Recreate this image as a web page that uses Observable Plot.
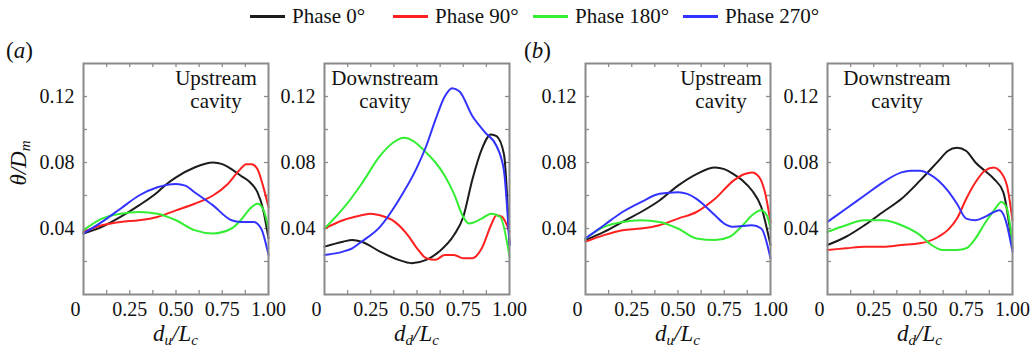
<!DOCTYPE html>
<html>
<head>
<meta charset="utf-8">
<script src="https://cdn.jsdelivr.net/npm/d3@7"></script>
<script src="https://cdn.jsdelivr.net/npm/@observablehq/plot@0.6"></script>
<style>
  body { margin: 0; background: #fff; }
  #root { position: relative; width: 1036px; height: 355px; overflow: hidden; font-family: "Liberation Serif", "DejaVu Serif", serif; color: #111; }
  .legend-item { position: absolute; top: 4px; display: flex; align-items: center; font-size: 21px; white-space: nowrap; }
  .legend-item .sw { width: 35px; height: 3px; margin-right: 7px; }
  .xt { position: absolute; font-style: italic; font-size: 23px; transform: translateX(-50%); white-space: nowrap; line-height: 1; }
  .xt sub, .yt sub { font-size: 15px; vertical-align: -4px; }
  .yt { position: absolute; font-style: italic; font-size: 23px; white-space: nowrap; transform: translate(-50%, -50%) rotate(-90deg); }
  .pl { position: absolute; font-size: 23px; }
  #probe1 { font-family: "Liberation Serif"; }
</style>
</head>
<body>
<div id="root"></div>
<script>
// ---- data ----
const phases = ["Phase 0°", "Phase 90°", "Phase 180°", "Phase 270°"];
const phaseColors = ["#1c1c1c", "#ff2020", "#33ee33", "#3333ff"];

const yTickValues = [0.04, 0.08, 0.12];
const yMinorTicks = [0.02, 0.04, 0.06, 0.08, 0.10, 0.12];
const xTickValues = [0, 0.25, 0.5, 0.75, 1];
const xTickLabels = ["0", "0.25", "0.50", "0.75", "1.00"];
const xMinorTicks = [0.125, 0.25, 0.375, 0.5, 0.625, 0.75, 0.875];

// (a) upstream cavity
const aUp0 = [[0,0.037],[0.1,0.041],[0.2,0.047],[0.3,0.054],[0.4,0.062],[0.45,0.067],[0.5,0.071],[0.6,0.077],[0.7,0.080],[0.75,0.079],[0.8,0.076],[0.85,0.072],[0.9,0.068],[0.94,0.062],[0.97,0.052],[1.0,0.034]];
const aUp90 = [[0,0.038],[0.1,0.042],[0.2,0.044],[0.3,0.045],[0.4,0.047],[0.5,0.051],[0.6,0.055],[0.7,0.060],[0.78,0.067],[0.84,0.075],[0.88,0.079],[0.91,0.079],[0.94,0.076],[0.97,0.066],[1.0,0.053]];
const aUp180 = [[0,0.039],[0.1,0.046],[0.2,0.049],[0.3,0.050],[0.4,0.049],[0.5,0.045],[0.6,0.039],[0.7,0.037],[0.8,0.040],[0.85,0.045],[0.9,0.052],[0.94,0.055],[0.97,0.052],[1.0,0.040]];
const aUp270 = [[0,0.037],[0.1,0.044],[0.2,0.052],[0.3,0.060],[0.4,0.065],[0.5,0.067],[0.55,0.066],[0.6,0.062],[0.7,0.054],[0.8,0.045],[0.85,0.044],[0.92,0.044],[0.96,0.040],[1.0,0.024]];

// (a) downstream cavity
const aDown0 = [[0,0.029],[0.1,0.032],[0.15,0.033],[0.2,0.032],[0.3,0.026],[0.4,0.021],[0.47,0.019],[0.55,0.021],[0.62,0.026],[0.7,0.036],[0.75,0.047],[0.8,0.070],[0.85,0.088],[0.9,0.097],[0.93,0.096],[0.97,0.085],[1.0,0.030]];
const aDown90 = [[0,0.040],[0.1,0.045],[0.2,0.048],[0.25,0.049],[0.3,0.048],[0.38,0.044],[0.45,0.036],[0.5,0.028],[0.55,0.022],[0.6,0.021],[0.65,0.024],[0.7,0.024],[0.75,0.022],[0.8,0.022],[0.85,0.028],[0.9,0.042],[0.93,0.048],[0.96,0.047],[1.0,0.038]];
const aDown180 = [[0,0.040],[0.1,0.052],[0.2,0.067],[0.3,0.084],[0.37,0.092],[0.43,0.095],[0.48,0.093],[0.55,0.086],[0.6,0.080],[0.65,0.072],[0.7,0.061],[0.75,0.047],[0.78,0.043],[0.85,0.046],[0.9,0.049],[0.95,0.047],[1.0,0.023]];
const aDown270 = [[0,0.024],[0.1,0.026],[0.15,0.028],[0.2,0.032],[0.3,0.041],[0.4,0.057],[0.5,0.077],[0.55,0.090],[0.6,0.106],[0.65,0.120],[0.69,0.125],[0.73,0.123],[0.8,0.108],[0.87,0.098],[0.93,0.090],[0.97,0.075],[1.0,0.030]];

// (b) upstream cavity
const bUp0 = [[0,0.033],[0.1,0.038],[0.2,0.044],[0.3,0.050],[0.4,0.057],[0.5,0.066],[0.6,0.073],[0.7,0.077],[0.75,0.076],[0.8,0.073],[0.85,0.069],[0.9,0.063],[0.95,0.053],[1.0,0.030]];
const bUp90 = [[0,0.032],[0.1,0.036],[0.2,0.039],[0.3,0.040],[0.4,0.042],[0.5,0.046],[0.6,0.050],[0.7,0.058],[0.8,0.069],[0.86,0.073],[0.9,0.074],[0.94,0.071],[0.97,0.062],[1.0,0.044]];
const bUp180 = [[0,0.034],[0.1,0.041],[0.2,0.044],[0.3,0.045],[0.4,0.044],[0.5,0.040],[0.6,0.034],[0.7,0.033],[0.78,0.035],[0.85,0.042],[0.9,0.048],[0.95,0.051],[0.98,0.048],[1.0,0.040]];
const bUp270 = [[0,0.034],[0.1,0.042],[0.2,0.050],[0.3,0.056],[0.4,0.061],[0.5,0.062],[0.55,0.061],[0.6,0.058],[0.7,0.048],[0.75,0.043],[0.8,0.041],[0.9,0.042],[0.95,0.040],[1.0,0.022]];

// (b) downstream cavity
const bDown0 = [[0,0.030],[0.1,0.035],[0.2,0.042],[0.3,0.050],[0.4,0.058],[0.5,0.069],[0.6,0.081],[0.65,0.087],[0.7,0.089],[0.75,0.087],[0.8,0.080],[0.85,0.075],[0.9,0.070],[0.95,0.062],[1.0,0.028]];
const bDown90 = [[0,0.027],[0.1,0.028],[0.2,0.029],[0.3,0.029],[0.4,0.030],[0.5,0.031],[0.6,0.035],[0.65,0.039],[0.7,0.046],[0.75,0.058],[0.8,0.068],[0.85,0.075],[0.9,0.077],[0.93,0.075],[0.97,0.066],[1.0,0.045]];
const bDown180 = [[0,0.038],[0.1,0.042],[0.2,0.045],[0.3,0.045],[0.4,0.042],[0.5,0.036],[0.55,0.031],[0.62,0.027],[0.7,0.027],[0.75,0.028],[0.8,0.034],[0.85,0.043],[0.9,0.051],[0.94,0.056],[0.97,0.052],[1.0,0.030]];
const bDown270 = [[0,0.044],[0.1,0.052],[0.2,0.060],[0.3,0.068],[0.4,0.074],[0.45,0.075],[0.5,0.075],[0.55,0.073],[0.6,0.069],[0.65,0.063],[0.7,0.055],[0.75,0.046],[0.8,0.045],[0.85,0.047],[0.9,0.050],[0.93,0.051],[0.96,0.046],[1.0,0.026]];

const panelNotes = ["Upstream\ncavity", "Downstream\ncavity", "Upstream\ncavity", "Downstream\ncavity"];
const xTitles = ["u", "d", "u", "d"];

// ---- layout ----
const root = document.getElementById("root");
const FW = 185, FH = 231, ML = 60, MR = 15, MT = 10, MB = 45;
const frameLefts = [83, 324, 585, 827];
const frameTop = 63;
const noteDx = [40, -32, 43, -23];
const serif = "'Liberation Serif', 'DejaVu Serif', serif";
const panels = [
  [aUp0, aUp90, aUp180, aUp270],
  [aDown0, aDown90, aDown180, aDown270],
  [bUp0, bUp90, bUp180, bUp270],
  [bDown0, bDown90, bDown180, bDown270]
];

const fmt2 = d3.format(".2f");
const tickStroke = "#8c8c8c";

panels.forEach((series, p) => {
  const rows = series.flatMap((s, i) => s.map(([x, y]) => ({x, y, phase: phases[i]})));
  const chart = Plot.plot({
    width: ML + FW + MR,
    height: MT + FH + MB,
    marginLeft: ML, marginRight: MR, marginTop: MT, marginBottom: MB,
    x: {domain: [0, 1]},
    y: {domain: [0, 0.14]},
    color: {domain: phases, range: phaseColors},
    style: {background: "transparent", overflow: "visible", fontFamily: serif, fontSize: "20px", color: "#111"},
    marks: [
      Plot.ruleY(yMinorTicks, {stroke: tickStroke, strokeWidth: 1.3, insetRight: FW - 4}),
      Plot.ruleY(yMinorTicks, {stroke: tickStroke, strokeWidth: 1.3, insetLeft: FW - 4}),
      Plot.ruleX(xMinorTicks, {stroke: tickStroke, strokeWidth: 1.3, insetTop: FH - 4}),
      Plot.ruleX(xMinorTicks, {stroke: tickStroke, strokeWidth: 1.3, insetBottom: FH - 4}),
      Plot.line(rows, {x: "x", y: "y", z: "phase", stroke: "phase", strokeWidth: 2, curve: "monotone-x"}),
      Plot.frame({stroke: "#8a8a8a", strokeWidth: 2}),
      Plot.axisY(yTickValues, {tickSize: 0, tickPadding: 9, tickFormat: fmt2, label: null, fontSize: 20, fontFamily: serif}),
      Plot.axisX(xTickValues.slice(1), {tickSize: 0, tickPadding: 7, tickFormat: (d) => xTickLabels[xTickValues.indexOf(d)], label: null, fontSize: 20, fontFamily: serif}),
      Plot.text([xTickLabels[0]], {x: () => xTickValues[0], frameAnchor: "bottom", lineAnchor: "top", dy: 7, dx: -8, fontSize: 20, fontFamily: serif}),
      Plot.text([panelNotes[p]], {frameAnchor: "top", lineAnchor: "top", textAnchor: "middle", dx: noteDx[p], dy: 5, fontSize: 21, lineHeight: 1.1, fontFamily: serif})
    ]
  });
  chart.style.position = "absolute";
  chart.style.left = (frameLefts[p] - ML) + "px";
  chart.style.top = (frameTop - MT) + "px";
  root.appendChild(chart);

  const xt = document.createElement("div");
  xt.className = "xt";
  xt.style.left = (frameLefts[p] + FW / 2) + "px";
  xt.style.top = "322px";
  xt.innerHTML = `d<sub>${xTitles[p]}</sub>/L<sub>c</sub>`;
  root.appendChild(xt);
});

// y title
const yt = document.createElement("div");
yt.className = "yt";
yt.style.left = "20px";
yt.style.top = "163px";
yt.innerHTML = "θ/D<sub>m</sub>";
root.appendChild(yt);

// panel labels
[["(", "a", ")", 6], ["(", "b", ")", 524]].forEach(([l, c, r, x]) => {
  const d = document.createElement("div");
  d.className = "pl";
  d.style.left = x + "px";
  d.style.top = "38px";
  d.innerHTML = `${l}<i>${c}</i>${r}`;
  root.appendChild(d);
});

// legend
const legendLefts = [250, 393, 533, 683];
phases.forEach((ph, i) => {
  const it = document.createElement("div");
  it.className = "legend-item";
  it.style.left = legendLefts[i] + "px";
  it.innerHTML = `<span class="sw" style="background:${phaseColors[i]}"></span><span>${ph}</span>`;
  root.appendChild(it);
});
</script>
</body>
</html>
